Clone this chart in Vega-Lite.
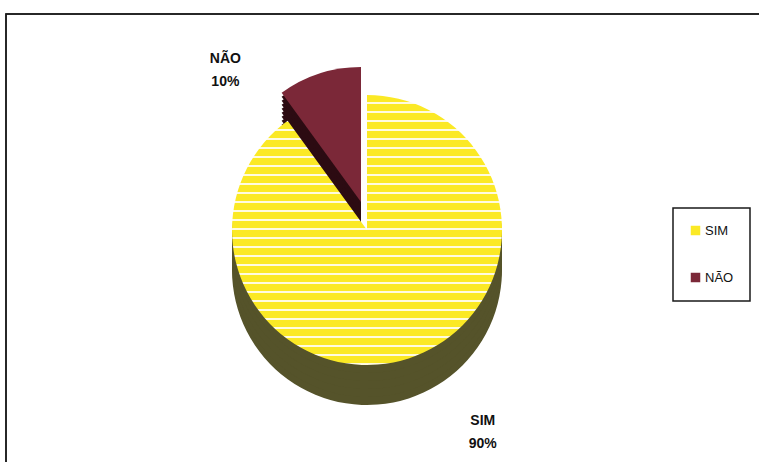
{
  "$schema": "https://vega.github.io/schema/vega-lite/v6.json",
  "width": 760,
  "height": 460,
  "autosize": "none",
  "padding": {"left": 6, "top": 14, "right": 0, "bottom": 0},
  "background": "white",
  "config": {
    "view": {"stroke": null},
    "font": "Liberation Sans",
    "legend": {"strokeColor": "#1a1a1a", "strokeWidth": 1.5}
  },
  "data": {
    "values": [
      {"category": "SIM", "value": 90, "label": "SIM\n90%"},
      {"category": "NÃO", "value": 10, "label": "NÃO\n10%"}
    ]
  },
  "layer": [
    {
      "mark": {"type": "rect", "fill": null, "stroke": "#1a1a1a", "strokeWidth": 1.5},
      "encoding": {"x": {"value": 0}, "x2": {"value": "width"}, "y": {"value": 0}, "y2": {"value": "height"}}
    },
    {
      "encoding": {
        "theta": {"field": "value", "type": "quantitative", "stack": true},
        "order": {"field": "value", "type": "quantitative", "sort": "descending"}
      },
      "layer": [
        {"mark": {"type": "arc", "outerRadius": 135, "xOffset": -25, "yOffset": -2, "color": "#2C0B12"}, "encoding": {"opacity": {"condition": {"test": "datum.category === 'NÃO'", "value": 1}, "value": 0}}},
        {"mark": {"type": "arc", "outerRadius": 135, "xOffset": -25, "yOffset": -6, "color": "#2C0B12"}, "encoding": {"opacity": {"condition": {"test": "datum.category === 'NÃO'", "value": 1}, "value": 0}}},
        {"mark": {"type": "arc", "outerRadius": 135, "xOffset": -25, "yOffset": -10, "color": "#2C0B12"}, "encoding": {"opacity": {"condition": {"test": "datum.category === 'NÃO'", "value": 1}, "value": 0}}},
        {"mark": {"type": "arc", "outerRadius": 135, "xOffset": -25, "yOffset": -14, "color": "#2C0B12"}, "encoding": {"opacity": {"condition": {"test": "datum.category === 'NÃO'", "value": 1}, "value": 0}}},
        {"mark": {"type": "arc", "outerRadius": 135, "xOffset": -25, "yOffset": -18, "color": "#2C0B12"}, "encoding": {"opacity": {"condition": {"test": "datum.category === 'NÃO'", "value": 1}, "value": 0}}},
        {"mark": {"type": "arc", "outerRadius": 135, "xOffset": -25, "yOffset": -22, "color": "#2C0B12"}, "encoding": {"opacity": {"condition": {"test": "datum.category === 'NÃO'", "value": 1}, "value": 0}}},
        {"mark": {"type": "arc", "outerRadius": 135, "xOffset": -25, "yOffset": -26, "color": "#2C0B12"}, "encoding": {"opacity": {"condition": {"test": "datum.category === 'NÃO'", "value": 1}, "value": 0}}},
        {"mark": {"type": "arc", "outerRadius": 135, "xOffset": -25, "yOffset": -30, "color": "#2C0B12"}, "encoding": {"opacity": {"condition": {"test": "datum.category === 'NÃO'", "value": 1}, "value": 0}}},
        {"mark": {"type": "arc", "outerRadius": 135, "xOffset": -25, "yOffset": -34, "color": "#2C0B12"}, "encoding": {"opacity": {"condition": {"test": "datum.category === 'NÃO'", "value": 1}, "value": 0}}},
        {"mark": {"type": "arc", "outerRadius": 135, "xOffset": -25, "yOffset": -38, "color": "#2C0B12"}, "encoding": {"opacity": {"condition": {"test": "datum.category === 'NÃO'", "value": 1}, "value": 0}}},
        {
          "mark": {"type": "arc", "outerRadius": 135, "xOffset": -25, "yOffset": -42},
          "encoding": {
            "color": {
              "field": "category", "type": "nominal",
              "scale": {"domain": ["SIM", "NÃO"], "range": ["#FBE925", "#7B2838"]},
              "legend": {
                "title": null, "orient": "none", "legendX": 667, "legendY": 194,
                "padding": 16,
                "symbolType": "square", "symbolSize": 90, "symbolStrokeWidth": 0,
                "labelFont": "Liberation Sans", "labelFontSize": 13, "labelColor": "#111",
                "rowPadding": 33, "labelOffset": 3
              }
            },
            "opacity": {"condition": {"test": "datum.category === 'NÃO'", "value": 1}, "value": 0}
          }
        },
        {"mark": {"type": "arc", "outerRadius": 135, "xOffset": -19, "yOffset": 26, "color": "#55532A"}, "encoding": {"opacity": {"condition": {"test": "datum.category === 'SIM'", "value": 1}, "value": 0}}},
        {"mark": {"type": "arc", "outerRadius": 135, "xOffset": -19, "yOffset": 18, "color": "#55532A"}, "encoding": {"opacity": {"condition": {"test": "datum.category === 'SIM'", "value": 1}, "value": 0}}},
        {"mark": {"type": "arc", "outerRadius": 135, "xOffset": -19, "yOffset": 10, "color": "#55532A"}, "encoding": {"opacity": {"condition": {"test": "datum.category === 'SIM'", "value": 1}, "value": 0}}},
        {"mark": {"type": "arc", "outerRadius": 135, "xOffset": -19, "yOffset": 2, "color": "#55532A"}, "encoding": {"opacity": {"condition": {"test": "datum.category === 'SIM'", "value": 1}, "value": 0}}},
        {"mark": {"type": "arc", "outerRadius": 135, "xOffset": -19, "yOffset": -6, "color": "#55532A"}, "encoding": {"opacity": {"condition": {"test": "datum.category === 'SIM'", "value": 1}, "value": 0}}},
        {
          "mark": {
            "type": "arc", "outerRadius": 135, "xOffset": -19, "yOffset": -14,
            "fill": {
              "gradient": "linear", "x1": 0, "y1": 0, "x2": 0, "y2": 1,
              "stops": [
                {"offset": 0, "color": "#FBE925"}, {"offset": 0.0277, "color": "#FBE925"}, {"offset": 0.0277, "color": "#FFFBE0"}, {"offset": 0.0333, "color": "#FFFBE0"},
                {"offset": 0.0333, "color": "#FBE925"}, {"offset": 0.061, "color": "#FBE925"}, {"offset": 0.061, "color": "#FFFBE0"}, {"offset": 0.0667, "color": "#FFFBE0"},
                {"offset": 0.0667, "color": "#FBE925"}, {"offset": 0.0944, "color": "#FBE925"}, {"offset": 0.0944, "color": "#FFFBE0"}, {"offset": 0.1, "color": "#FFFBE0"},
                {"offset": 0.1, "color": "#FBE925"}, {"offset": 0.1277, "color": "#FBE925"}, {"offset": 0.1277, "color": "#FFFBE0"}, {"offset": 0.1333, "color": "#FFFBE0"},
                {"offset": 0.1333, "color": "#FBE925"}, {"offset": 0.161, "color": "#FBE925"}, {"offset": 0.161, "color": "#FFFBE0"}, {"offset": 0.1667, "color": "#FFFBE0"},
                {"offset": 0.1667, "color": "#FBE925"}, {"offset": 0.1944, "color": "#FBE925"}, {"offset": 0.1944, "color": "#FFFBE0"}, {"offset": 0.2, "color": "#FFFBE0"},
                {"offset": 0.2, "color": "#FBE925"}, {"offset": 0.2277, "color": "#FBE925"}, {"offset": 0.2277, "color": "#FFFBE0"}, {"offset": 0.2333, "color": "#FFFBE0"},
                {"offset": 0.2333, "color": "#FBE925"}, {"offset": 0.261, "color": "#FBE925"}, {"offset": 0.261, "color": "#FFFBE0"}, {"offset": 0.2667, "color": "#FFFBE0"},
                {"offset": 0.2667, "color": "#FBE925"}, {"offset": 0.2944, "color": "#FBE925"}, {"offset": 0.2944, "color": "#FFFBE0"}, {"offset": 0.3, "color": "#FFFBE0"},
                {"offset": 0.3, "color": "#FBE925"}, {"offset": 0.3277, "color": "#FBE925"}, {"offset": 0.3277, "color": "#FFFBE0"}, {"offset": 0.3333, "color": "#FFFBE0"},
                {"offset": 0.3333, "color": "#FBE925"}, {"offset": 0.361, "color": "#FBE925"}, {"offset": 0.361, "color": "#FFFBE0"}, {"offset": 0.3667, "color": "#FFFBE0"},
                {"offset": 0.3667, "color": "#FBE925"}, {"offset": 0.3944, "color": "#FBE925"}, {"offset": 0.3944, "color": "#FFFBE0"}, {"offset": 0.4, "color": "#FFFBE0"},
                {"offset": 0.4, "color": "#FBE925"}, {"offset": 0.4277, "color": "#FBE925"}, {"offset": 0.4277, "color": "#FFFBE0"}, {"offset": 0.4333, "color": "#FFFBE0"},
                {"offset": 0.4333, "color": "#FBE925"}, {"offset": 0.461, "color": "#FBE925"}, {"offset": 0.461, "color": "#FFFBE0"}, {"offset": 0.4667, "color": "#FFFBE0"},
                {"offset": 0.4667, "color": "#FBE925"}, {"offset": 0.4944, "color": "#FBE925"}, {"offset": 0.4944, "color": "#FFFBE0"}, {"offset": 0.5, "color": "#FFFBE0"},
                {"offset": 0.5, "color": "#FBE925"}, {"offset": 0.5277, "color": "#FBE925"}, {"offset": 0.5277, "color": "#FFFBE0"}, {"offset": 0.5333, "color": "#FFFBE0"},
                {"offset": 0.5333, "color": "#FBE925"}, {"offset": 0.561, "color": "#FBE925"}, {"offset": 0.561, "color": "#FFFBE0"}, {"offset": 0.5667, "color": "#FFFBE0"},
                {"offset": 0.5667, "color": "#FBE925"}, {"offset": 0.5944, "color": "#FBE925"}, {"offset": 0.5944, "color": "#FFFBE0"}, {"offset": 0.6, "color": "#FFFBE0"},
                {"offset": 0.6, "color": "#FBE925"}, {"offset": 0.6277, "color": "#FBE925"}, {"offset": 0.6277, "color": "#FFFBE0"}, {"offset": 0.6333, "color": "#FFFBE0"},
                {"offset": 0.6333, "color": "#FBE925"}, {"offset": 0.661, "color": "#FBE925"}, {"offset": 0.661, "color": "#FFFBE0"}, {"offset": 0.6667, "color": "#FFFBE0"},
                {"offset": 0.6667, "color": "#FBE925"}, {"offset": 0.6944, "color": "#FBE925"}, {"offset": 0.6944, "color": "#FFFBE0"}, {"offset": 0.7, "color": "#FFFBE0"},
                {"offset": 0.7, "color": "#FBE925"}, {"offset": 0.7277, "color": "#FBE925"}, {"offset": 0.7277, "color": "#FFFBE0"}, {"offset": 0.7333, "color": "#FFFBE0"},
                {"offset": 0.7333, "color": "#FBE925"}, {"offset": 0.761, "color": "#FBE925"}, {"offset": 0.761, "color": "#FFFBE0"}, {"offset": 0.7667, "color": "#FFFBE0"},
                {"offset": 0.7667, "color": "#FBE925"}, {"offset": 0.7944, "color": "#FBE925"}, {"offset": 0.7944, "color": "#FFFBE0"}, {"offset": 0.8, "color": "#FFFBE0"},
                {"offset": 0.8, "color": "#FBE925"}, {"offset": 0.8277, "color": "#FBE925"}, {"offset": 0.8277, "color": "#FFFBE0"}, {"offset": 0.8333, "color": "#FFFBE0"},
                {"offset": 0.8333, "color": "#FBE925"}, {"offset": 0.861, "color": "#FBE925"}, {"offset": 0.861, "color": "#FFFBE0"}, {"offset": 0.8667, "color": "#FFFBE0"},
                {"offset": 0.8667, "color": "#FBE925"}, {"offset": 0.8944, "color": "#FBE925"}, {"offset": 0.8944, "color": "#FFFBE0"}, {"offset": 0.9, "color": "#FFFBE0"},
                {"offset": 0.9, "color": "#FBE925"}, {"offset": 0.9277, "color": "#FBE925"}, {"offset": 0.9277, "color": "#FFFBE0"}, {"offset": 0.9333, "color": "#FFFBE0"},
                {"offset": 0.9333, "color": "#FBE925"}, {"offset": 0.961, "color": "#FBE925"}, {"offset": 0.961, "color": "#FFFBE0"}, {"offset": 0.9667, "color": "#FFFBE0"},
                {"offset": 0.9667, "color": "#FBE925"}, {"offset": 0.9944, "color": "#FBE925"}, {"offset": 0.9944, "color": "#FFFBE0"}, {"offset": 1, "color": "#FFFBE0"}
              ]
            }
          },
          "encoding": {
            "opacity": {"condition": {"test": "datum.category === 'SIM'", "value": 1}, "value": 0}
          }
        },
        {
          "mark": {"type": "text", "radius": 180, "xOffset": -19, "yOffset": -14, "dx": -86, "dy": 0, "fontSize": 14, "fontWeight": "bold", "font": "Liberation Sans", "lineBreak": "\n", "lineHeight": 23, "color": "#111"},
          "encoding": {"text": {"condition": {"test": "datum.category === 'NÃO'", "field": "label"}, "value": ""}}
        },
        {
          "mark": {"type": "text", "radius": 200, "xOffset": -19, "yOffset": -14, "dx": 54, "dy": 1, "fontSize": 14, "fontWeight": "bold", "font": "Liberation Sans", "lineBreak": "\n", "lineHeight": 23, "color": "#111"},
          "encoding": {"text": {"condition": {"test": "datum.category === 'SIM'", "field": "label"}, "value": ""}}
        }
      ]
    }
  ]
}
